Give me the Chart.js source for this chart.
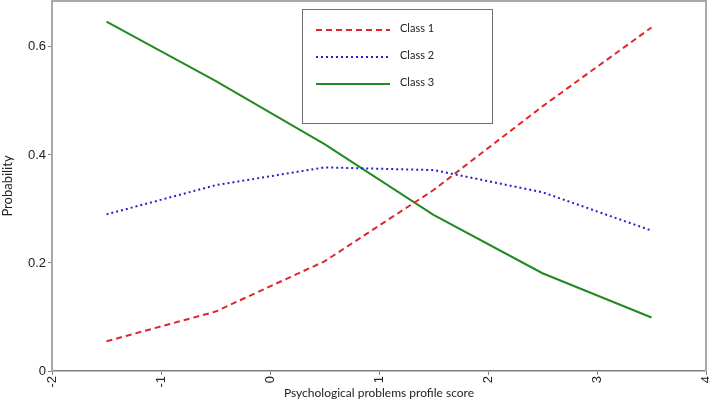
<!DOCTYPE html>
<html>
<head>
<meta charset="utf-8">
<script src="https://cdn.jsdelivr.net/npm/chart.js@4"></script>
<style>
  html,body{margin:0;padding:0;background:#fff}
  #wrap{width:709px;height:414px;position:relative}
</style>
</head>
<body>
<div id="wrap"><canvas id="c" width="709" height="414"></canvas></div>
<script>
/* profile score -> class probabilities */
var SCORES=[-1.5,-0.5,0.5,1.5,2.5,3.5];
var CLASS1=[0.055,0.11,0.203,0.335,0.49,0.636];
var CLASS2=[0.29,0.344,0.377,0.372,0.331,0.26];
var CLASS3=[0.647,0.537,0.42,0.289,0.181,0.099];
var X_TICKS=[-2,-1,0,1,2,3,4];
var Y_TICKS=[0,0.2,0.4,0.6];
var LABELS=['Class 1','Class 2','Class 3'];

function pts(arr){ return SCORES.map(function(x,i){ return {x:x,y:arr[i]}; }); }

var STYLES=[
  {color:'#e0262b',dash:[6,4]},
  {color:'#2424c8',dash:[2,3]},
  {color:'#218a21',dash:[]}
];

var frame={
  id:'frame',
  afterDraw:function(ch){
    var a=ch.chartArea,ctx=ch.ctx;
    ctx.save();
    ctx.strokeStyle='#a8a8a8';ctx.lineWidth=2;
    ctx.beginPath();
    ctx.moveTo(a.left,a.top);ctx.lineTo(a.right,a.top);ctx.lineTo(a.right,a.bottom);
    ctx.stroke();
    // legend box
    var bx=302.5,by=9.5,bw=190,bh=114;
    ctx.fillStyle='#fff';ctx.fillRect(bx,by,bw,bh);
    ctx.strokeStyle='#707070';ctx.lineWidth=1;ctx.strokeRect(bx,by,bw,bh);
    ch.data.datasets.forEach(function(ds,i){
      var y=30+i*27;
      ctx.strokeStyle=ds.borderColor;ctx.lineWidth=2;ctx.setLineDash(ds.borderDash||[]);
      ctx.beginPath();ctx.moveTo(316,y);ctx.lineTo(390,y);ctx.stroke();
      ctx.setLineDash([]);
      ctx.fillStyle='#222';ctx.font='11px Lato, "Open Sans", sans-serif';
      ctx.textBaseline='middle';ctx.textAlign='left';
      ctx.fillText(ds.label,400,y-2);
    });
    ctx.restore();
  }
};

new Chart(document.getElementById('c'),{
  type:'line',
  data:{
    datasets:[CLASS1,CLASS2,CLASS3].map(function(arr,i){
      return {label:LABELS[i],data:pts(arr),borderColor:STYLES[i].color,borderDash:STYLES[i].dash,
        borderWidth:2,pointRadius:0,fill:false,tension:0};
    })
  },
  options:{
    responsive:false,animation:false,
    layout:{padding:{top:1,right:3,left:0,bottom:0}},
    plugins:{legend:{display:false},tooltip:{enabled:false}},
    scales:{
      x:{type:'linear',min:-2,max:4,
        afterBuildTicks:function(s){ s.ticks=X_TICKS.map(function(v){return {value:v};}); },
        afterFit:function(s){ s.height=43; s.paddingLeft=0; s.paddingRight=0; },
        grid:{display:true,drawOnChartArea:false,drawTicks:true,tickLength:4,color:'#808080'},
        border:{color:'#808080',width:1.5},
        ticks:{minRotation:90,maxRotation:90,color:'#222',font:{family:'"Liberation Sans", Arial',size:13},padding:1},
        title:{display:true,text:'Psychological problems profile score',color:'#222',font:{family:'Lato, "Open Sans", sans-serif',size:12},padding:{top:0,bottom:14}}
      },
      y:{min:0,max:0.685,
        afterBuildTicks:function(s){ s.ticks=Y_TICKS.map(function(v){return {value:v};}); },
        afterFit:function(s){ s.width=52; s.paddingTop=0; s.paddingBottom=0; },
        grid:{display:true,drawOnChartArea:false,drawTicks:true,tickLength:4,color:'#808080'},
        border:{color:'#a8a8a8',width:2},
        ticks:{color:'#222',font:{family:'"Liberation Sans", Arial',size:13},padding:2,
          callback:function(v){ return v===0?'0':String(v); }},
        title:{display:true,text:'Probability',color:'#222',font:{family:'Lato, "Open Sans", sans-serif',size:13},padding:{top:0,bottom:4}}
      }
    }
  },
  plugins:[frame]
});
</script>
</body>
</html>
